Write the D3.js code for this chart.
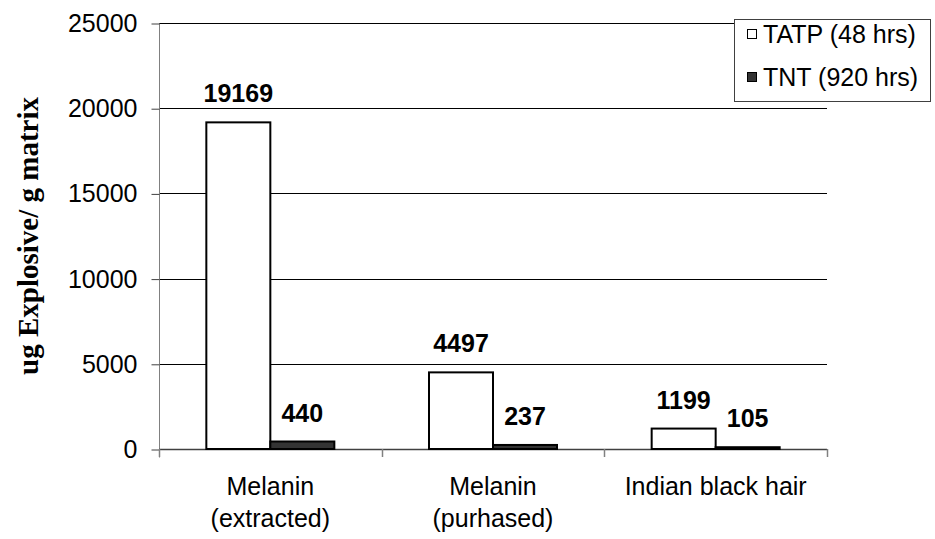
<!DOCTYPE html>
<html>
<head>
<meta charset="utf-8">
<script src="https://cdn.jsdelivr.net/npm/d3@7"></script>
<style>
  html, body { margin: 0; padding: 0; background: #fff; }
  svg { display: block; }
</style>
</head>
<body>
<svg id="chart" width="935" height="539"></svg>
<script>
const categories = [["Melanin", "(extracted)"], ["Melanin", "(purhased)"], ["Indian black hair"]];
const categoryKeys = ["Melanin (extracted)", "Melanin (purhased)", "Indian black hair"];
const seriesNames = ["TATP (48 hrs)", "TNT (920 hrs)"];
const tatpValues = [19169, 4497, 1199];
const tntValues = [440, 237, 105];
const yTicks = [0, 5000, 10000, 15000, 20000, 25000];
const yTitle = "ug Explosive/ g matrix";

(function () {
const seriesValues = [tatpValues, tntValues];
const seriesFill = ["#ffffff", "#333333"];

const svg = d3.select("#chart");
const pLeft = 159, pRight = 827, pTop = 23, pBottom = 449;

const y = d3.scaleLinear().domain([0, 25000]).range([pBottom, pTop]);
const x0 = d3.scaleBand().domain(categoryKeys).range([pLeft, pRight]).paddingInner(0).paddingOuter(0);
const groupW = 128;
const x1 = d3.scaleBand().domain(seriesNames).range([0, groupW]).padding(0);
const groupOffset = (x0.bandwidth() - groupW) / 2;

// gridlines
svg.append("g").selectAll("line").data(yTicks.filter(d => d > 0)).join("line")
  .attr("x1", pLeft).attr("x2", pRight)
  .attr("y1", d => Math.round(y(d)) + 0.5).attr("y2", d => Math.round(y(d)) + 0.5)
  .attr("stroke", "#000").attr("stroke-width", 1);

// y axis
const yAxis = d3.axisLeft(y).tickValues(yTicks).tickSize(8).tickPadding(14).tickFormat(d3.format("d"));
const gy = svg.append("g").attr("transform", `translate(${pLeft + 0.5},0.5)`).call(yAxis);
gy.select(".domain").attr("stroke", "#808080").attr("d", `M0,${pTop}V${pBottom + 8}`);
gy.selectAll(".tick line").attr("stroke", "#404040");
gy.selectAll(".tick text").attr("font-family", "Liberation Sans, Arial, sans-serif")
  .attr("font-size", 25).attr("fill", "#000");

// x axis
const xBoundaries = categoryKeys.map(k => x0(k)).concat([pRight]);
svg.append("line").attr("x1", pLeft).attr("x2", pRight)
  .attr("y1", pBottom + 0.5).attr("y2", pBottom + 0.5)
  .attr("stroke", "#404040").attr("stroke-width", 1.5);
svg.append("g").selectAll("line").data(xBoundaries).join("line")
  .attr("x1", d => Math.round(d) + 0.5).attr("x2", d => Math.round(d) + 0.5)
  .attr("y1", pBottom).attr("y2", pBottom + 8)
  .attr("stroke", "#808080").attr("stroke-width", 1.5);

// bars
const barData = [];
categoryKeys.forEach((c, i) => {
  seriesNames.forEach((s, j) => {
    barData.push({ cat: c, series: s, value: seriesValues[j][i], fill: seriesFill[j] });
  });
});
svg.append("g").selectAll("rect").data(barData).join("rect")
  .attr("x", d => x0(d.cat) + groupOffset + x1(d.series))
  .attr("y", d => y(d.value))
  .attr("width", x1.bandwidth())
  .attr("height", d => pBottom - y(d.value))
  .attr("fill", d => d.fill)
  .attr("stroke", "#000").attr("stroke-width", 2);

// data labels
svg.append("g").selectAll("text").data(barData).join("text")
  .attr("x", d => x0(d.cat) + groupOffset + x1(d.series) + x1.bandwidth() / 2)
  .attr("y", d => y(d.value) - 20)
  .attr("text-anchor", "middle")
  .attr("font-family", "Liberation Sans, Arial, sans-serif")
  .attr("font-weight", "bold").attr("font-size", 25)
  .text(d => d.value);

// category labels
const catG = svg.append("g");
categoryKeys.forEach((k, i) => {
  const cx = x0(k) + x0.bandwidth() / 2;
  categories[i].forEach((line, li) => {
    catG.append("text").attr("x", cx).attr("y", 495 + li * 32)
      .attr("text-anchor", "middle")
      .attr("font-family", "Liberation Sans, Arial, sans-serif")
      .attr("font-size", 25).text(line);
  });
});

// y title
svg.append("text")
  .attr("transform", `translate(38,${(pTop + pBottom) / 2}) rotate(-90)`)
  .attr("text-anchor", "middle")
  .attr("font-family", "Liberation Serif, Times New Roman, serif")
  .attr("font-weight", "bold").attr("font-size", 29)
  .text(yTitle);

// legend
const lg = svg.append("g");
lg.append("rect").attr("x", 734.5).attr("y", 19.5).attr("width", 196).attr("height", 82)
  .attr("fill", "#fff").attr("stroke", "#404040").attr("stroke-width", 1);
seriesNames.forEach((s, j) => {
  const cy = 34 + j * 43;
  lg.append("rect").attr("x", 747.5).attr("y", cy - 4.5).attr("width", 9).attr("height", 9)
    .attr("fill", seriesFill[j]).attr("stroke", "#000").attr("stroke-width", 1);
  lg.append("text").attr("x", 763).attr("y", cy + 9)
    .attr("font-family", "Liberation Sans, Arial, sans-serif")
    .attr("font-size", 25).text(s);
});
})();
</script>
</body>
</html>
